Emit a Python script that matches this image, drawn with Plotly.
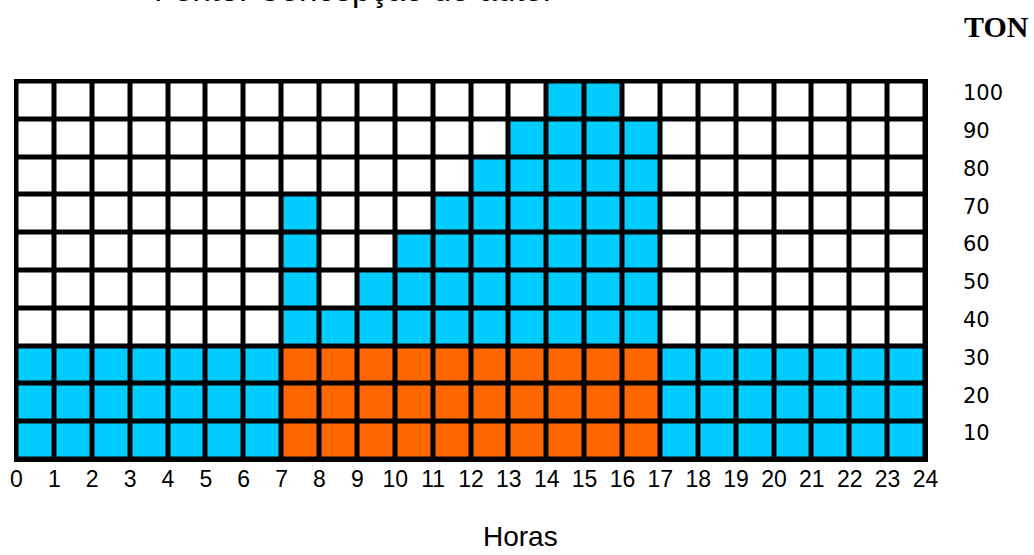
import plotly.graph_objects as go

# Data
hour_starts = list(range(24))
hour_labels = [str(h) for h in range(25)]
total_level = [3, 3, 3, 3, 3, 3, 3, 7, 4, 5, 6, 7, 8, 9, 10, 10, 9, 3, 3, 3, 3, 3, 3, 3]
base_level = [0, 0, 0, 0, 0, 0, 0, 3, 3, 3, 3, 3, 3, 3, 3, 3, 3, 0, 0, 0, 0, 0, 0, 0]
ton_labels = ["10", "20", "30", "40", "50", "60", "70", "80", "90", "100"]
rows = list(range(1, 11))

CYAN = "#00CCFF"
ORANGE = "#FF6600"

# category matrix: 0 empty, 1 cyan, 2 orange
z = []
for r in rows:
    row = []
    for c in range(len(hour_starts)):
        if r <= base_level[c]:
            row.append(2)
        elif r <= total_level[c]:
            row.append(1)
        else:
            row.append(0)
    z.append(row)

fig = go.Figure(go.Heatmap(
    x=[h + 0.5 for h in hour_starts],
    y=rows,
    z=z,
    zmin=0, zmax=2,
    colorscale=[[0, "white"], [0.333, "white"], [0.333, CYAN], [0.667, CYAN],
                [0.667, ORANGE], [1, ORANGE]],
    showscale=False,
    xgap=5, ygap=5,
    hoverinfo="skip",
))

fig.update_layout(
    width=1034, height=555,
    margin=dict(l=14, r=106, t=79, b=93, autoexpand=False),
    paper_bgcolor="white",
    plot_bgcolor="black",
    font=dict(family="Liberation Sans, Arial, sans-serif", color="black"),
    showlegend=False,
)
fig.update_xaxes(
    range=[-0.066, 24.066],
    tickvals=list(range(25)),
    ticktext=hour_labels,
    showgrid=False, zeroline=False, showline=False,
    ticks="",
    tickfont=dict(size=23),
    ticklabelstandoff=1,
    automargin=False,
    fixedrange=True,
)
fig.update_yaxes(
    range=[0.434, 10.566],
    side="right",
    tickvals=[r + 0.2 for r in rows],
    ticktext=ton_labels,
    showgrid=False, zeroline=False, showline=False,
    ticks="",
    tickfont=dict(size=21, family="DejaVu Sans, sans-serif"),
    ticklabelstandoff=34,
    automargin=False,
    fixedrange=True,
)

fig.add_annotation(text="Fonte: Concepção do autor", xref="paper", yref="paper",
                   x=(152 - 14) / 914, y=1 + 69 / 383, xanchor="left", yanchor="bottom",
                   showarrow=False,
                   font=dict(size=33))
fig.add_annotation(text="<b>TON</b>", xref="paper", yref="paper",
                   x=1.0 + (996 - 928) / 914, y=1 + (79 - 27) / 383,
                   xanchor="center", yanchor="middle", showarrow=False,
                   font=dict(size=30, family="Liberation Serif, Times New Roman, serif"))
fig.add_annotation(text="Horas", xref="paper", yref="paper",
                   x=(520 - 14) / 914, y=-(554 - 462) / 383,
                   xanchor="center", yanchor="bottom", showarrow=False,
                   font=dict(size=28))

fig.write_html("out.html", config={"displayModeBar": False},
               post_script="document.body.style.margin='0';")
